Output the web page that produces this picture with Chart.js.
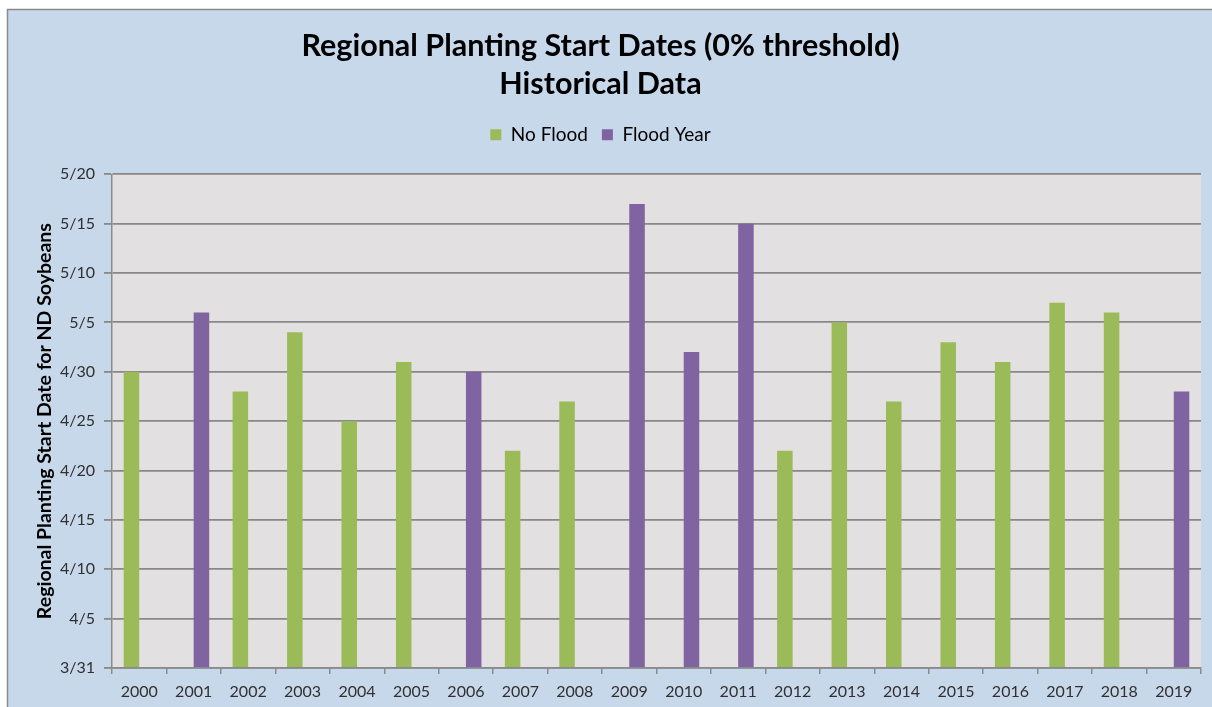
<!DOCTYPE html>
<html>
<head>
<meta charset="utf-8">
<script src="https://cdn.jsdelivr.net/npm/chart.js@4.4.0/dist/chart.umd.min.js"></script>
<style>
html,body{margin:0;padding:0;background:#fff;}
#wrap{width:1212px;height:707px;position:relative;}
</style>
</head>
<body>
<div id="wrap"><canvas id="c" width="1212" height="707"></canvas></div>
<script>
const years = ['2000','2001','2002','2003','2004','2005','2006','2007','2008','2009','2010','2011','2012','2013','2014','2015','2016','2017','2018','2019'];
const noFlood = ['4/30', null, '4/28', '5/4', '4/25', '5/1', null, '4/22', '4/27', null, null, null, '4/22', '5/5', '4/27', '5/3', '5/1', '5/7', '5/6', null];
const floodYear = [null, '5/6', null, null, null, null, '4/30', null, null, '5/17', '5/2', '5/15', null, null, null, null, null, null, null, '4/28'];
const yTickLabels = ['3/31','4/5','4/10','4/15','4/20','4/25','4/30','5/5','5/10','5/15','5/20'];
const seriesNames = ['No Flood', 'Flood Year'];
const titleLines = ['Regional Planting Start Dates (0% threshold)', 'Historical Data'];
const yTitle = 'Regional Planting Start Date for ND Soybeans';

// days since 3/31
function toDays(s) {
  if (s === null) return null;
  const [m, d] = s.split('/').map(Number);
  if (m === 3) return d - 31;
  if (m === 4) return d;
  if (m === 5) return 30 + d;
  return null;
}

const FONT = 'Lato, "Open Sans", sans-serif';

const bgPlugin = {
  id: 'bgPlugin',
  beforeDraw(chart) {
    const ctx = chart.ctx;
    ctx.save();
    ctx.fillStyle = '#ffffff';
    ctx.fillRect(0, 0, chart.width, chart.height);
    ctx.fillStyle = '#C8D8EB';
    ctx.fillRect(7, 9, chart.width - 7, chart.height - 9);
    ctx.strokeStyle = '#8a8a8a';
    ctx.lineWidth = 1.5;
    ctx.beginPath();
    ctx.moveTo(7.5, chart.height);
    ctx.lineTo(7.5, 9.5);
    ctx.lineTo(chart.width, 9.5);
    ctx.stroke();
    const a = chart.chartArea;
    ctx.fillStyle = '#E2E0E1';
    ctx.fillRect(a.left, a.top, a.right - a.left, a.bottom - a.top);
    ctx.restore();
  }
};

new Chart(document.getElementById('c'), {
  type: 'bar',
  data: {
    labels: years,
    datasets: [
      { label: seriesNames[0], data: noFlood.map(toDays), backgroundColor: '#9BBB59', borderWidth: 0 },
      { label: seriesNames[1], data: floodYear.map(toDays), backgroundColor: '#8064A2', borderWidth: 0 }
    ]
  },
  options: {
    responsive: false,
    animation: false,
    devicePixelRatio: 1,
    layout: { padding: { left: 0, right: 11, top: 0, bottom: 0 } },
    datasets: { bar: { categoryPercentage: 0.57, barPercentage: 1.0 } },
    plugins: {
      title: {
        display: true,
        text: titleLines,
        color: '#000',
        font: { family: FONT, size: 30.5, weight: 'bold', lineHeight: 1.25 },
        padding: { top: 27, bottom: 8 }
      },
      subtitle: {
        display: true,
        text: ' ',
        weight: 500,
        font: { size: 1, lineHeight: 1 },
        padding: { top: 0, bottom: 19 }
      },
      legend: {
        display: true,
        labels: {
          color: '#000',
          font: { family: FONT, size: 19 },
          boxWidth: 11, boxHeight: 11,
          padding: 14
        }
      },
      tooltip: { enabled: false }
    },
    scales: {
      x: {
        offset: true,
        grid: { offset: true, drawOnChartArea: false, drawTicks: true, tickLength: 6, color: '#8a8a8a', lineWidth: 1.5 },
        border: { display: true, color: '#8a8a8a', width: 1.5 },
        ticks: { color: '#303030', font: { family: FONT, size: 16 }, padding: 8, maxRotation: 0, autoSkip: false },
        afterFit(s) { s.height = 39; }
      },
      y: {
        min: 0, max: 50,
        grid: { color: '#888888', lineWidth: 1.8, tickLength: 8 },
        border: { display: true, color: '#8a8a8a', width: 1.5 },
        ticks: {
          stepSize: 5,
          color: '#303030',
          font: { family: FONT, size: 16 },
          padding: 9,
          callback: (v, i) => yTickLabels[i]
        },
        title: {
          display: true,
          text: yTitle,
          color: '#000',
          font: { family: FONT, size: 19.5, weight: 'bold', lineHeight: 1.2 },
          padding: { top: 33, bottom: 0 }
        },
        afterFit(s) { s.width = 112; }
      }
    }
  },
  plugins: [bgPlugin]
});
</script>
</body>
</html>
